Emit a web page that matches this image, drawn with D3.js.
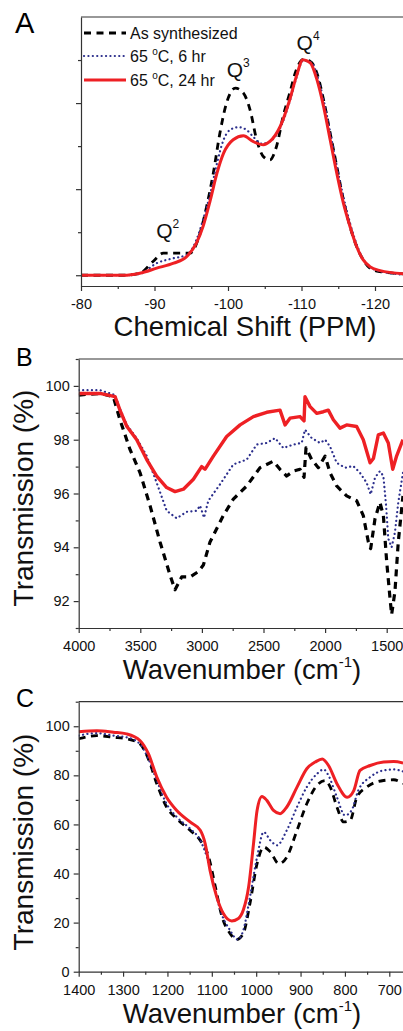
<!DOCTYPE html>
<html><head><meta charset="utf-8">
<script src="https://cdn.jsdelivr.net/npm/d3@7/dist/d3.min.js"></script>
<style>
html,body{margin:0;padding:0;background:#fff;}
svg{display:block;font-family:"Liberation Sans",Arial,sans-serif;}
</style></head>
<body>
<svg id="chart" width="403" height="1031"></svg>
<script>
// ---------- Panel A : 29Si NMR ----------
const seriesNames = ["As synthesized", "65 °C, 6 hr", "65 °C, 24 hr"];
const ppmBlack = [-80,-85.8,-88,-89.8,-91.2,-93.5,-94.8,-96.2,-97.1,-98,-98.9,-99.8,-101,-102.1,-103,-103.9,-104.8,-105.7,-106.6,-107.5,-108.4,-109.3,-110.2,-111.2,-112.1,-113,-113.9,-114.8,-115.7,-116.6,-117.5,-118.4,-119.3,-120.7,-124];
const nmrBlack = [0,0,0.012,0.08,0.128,0.128,0.128,0.244,0.40,0.593,0.826,1.0,1.087,1.058,0.961,0.787,0.69,0.67,0.748,0.922,1.058,1.194,1.252,1.242,1.174,1.019,0.826,0.632,0.438,0.283,0.167,0.089,0.041,0.021,0.008];
const ppmBlue = [-80,-85.8,-88,-90.3,-92.6,-94.4,-95.7,-96.6,-97.6,-98.5,-99.4,-100.3,-101.4,-102.5,-103.4,-104.6,-105.7,-107.1,-108.4,-109.3,-110.2,-111.4,-112.3,-113.2,-114.1,-115,-115.9,-116.8,-117.7,-118.6,-119.8,-124];
const nmrBlue = [0,0,0.008,0.07,0.099,0.118,0.205,0.322,0.477,0.651,0.787,0.845,0.86,0.845,0.806,0.764,0.777,0.855,1.01,1.145,1.246,1.233,1.136,0.981,0.787,0.593,0.419,0.273,0.157,0.079,0.035,0.002];
const ppmRed = [-80,-85.8,-88,-90.3,-92.6,-94.4,-95.7,-96.6,-97.6,-98.5,-99.4,-100.7,-102.1,-103.4,-104.8,-105.7,-107.1,-108.4,-109.3,-110.2,-111.2,-112.1,-113,-113.9,-114.8,-115.7,-116.6,-117.5,-118.4,-119.3,-120.7,-124];
const nmrRed = [0,0,0.012,0.041,0.07,0.109,0.186,0.283,0.438,0.593,0.709,0.787,0.81,0.777,0.758,0.777,0.864,1.019,1.155,1.252,1.233,1.136,0.981,0.787,0.593,0.419,0.283,0.167,0.089,0.05,0.027,0.008];
const ticksA = [-80,-90,-100,-110,-120];
const peakLabels = [{q:"2", ppm:-91.8, v:0.215}, {q:"3", ppm:-101.4, v:1.15}, {q:"4", ppm:-110.9, v:1.31}];

// ---------- Panel B : FTIR 4000-1400 ----------
const wnBBlack = [4000,3827,3719,3665,3583,3502,3421,3340,3259,3218,3164,3096,3028,2988,2934,2826,2745,2636,2528,2420,2366,2312,2258,2204,2171,2155,2109,2055,2000,1960,1906,1825,1744,1690,1649,1630,1595,1555,1527,1500,1473,1460,1433,1406,1368];
const trBBlack = [99.66,99.72,99.6,98.74,97.63,96.77,95.55,94.2,92.97,92.42,92.9,92.9,93.1,93.34,94.2,95.18,95.79,96.28,96.96,97.2,96.9,96.65,96.83,96.9,96.6,97.7,97.26,96.96,97.39,96.77,96.28,95.91,95.73,95.18,94.2,93.95,95.06,95.67,95.18,93.46,92.1,91.5,92.36,94.2,95.91];
const wnBBlue = [4000,3827,3705,3665,3610,3529,3448,3367,3286,3205,3123,3042,3015,2983,2948,2853,2745,2636,2555,2474,2406,2339,2258,2190,2163,2109,2041,2000,1960,1906,1838,1771,1717,1663,1630,1595,1555,1527,1505,1487,1460,1433,1406,1368];
const trBBlue = [99.84,99.84,99.66,99.15,98.55,98.05,97.4,96.4,95.36,95.08,95.32,95.36,95.55,95.1,95.73,96.34,97.08,97.26,97.82,97.88,98.06,97.69,97.82,97.88,98.37,98.06,97.88,98.0,97.75,97.14,96.96,97.02,96.77,96.4,95.97,96.59,96.83,96.65,95.55,94.32,94.0,94.56,95.67,96.77];
const wnBRed = [4000,3827,3705,3665,3610,3529,3448,3367,3286,3218,3150,3069,3002,2975,2907,2799,2690,2582,2474,2366,2325,2285,2204,2171,2163,2122,2068,2014,1974,1933,1879,1825,1744,1690,1635,1608,1568,1527,1487,1451,1419,1368];
const trBRed = [99.72,99.72,99.6,99.1,98.5,98.0,97.26,96.65,96.22,96.07,96.16,96.53,97.0,96.9,97.39,98.12,98.55,98.86,99.02,99.1,98.55,98.8,98.86,98.7,99.6,99.23,98.98,99.04,99.1,98.74,98.43,98.55,98.49,98.0,97.14,97.3,98.18,98.25,97.88,96.9,97.4,98.0];
const ticksBx = [4000,3500,3000,2500,2000,1500];
const ticksBy = [92,94,96,98,100];

// ---------- Panel C : FTIR 1400-670 ----------
const wnCBlack = [1400,1359,1322,1292,1262,1243,1224,1202,1179,1149,1126,1107,1092,1077,1059,1044,1029,1014,998,983,968,949,931,908,886,863,844,833,818,803,788,773,751,713,690,669];
const trCBlack = [94.9,96.2,95.5,94.9,92.8,86.7,76.6,67.1,62.3,57.6,53.5,46.7,34.6,22.4,15.6,13.1,15.6,27.8,44.0,50.8,48.8,44.0,46.7,57.6,68.4,75.9,77.9,75.2,67.1,61.0,61.7,71.1,75.2,77.9,78.2,76.6];
const wnCBlue = [1400,1359,1322,1292,1262,1243,1224,1202,1179,1149,1126,1111,1096,1081,1059,1042,1029,1014,998,983,968,953,931,908,886,863,848,837,818,800,785,770,743,713,690,669];
const trCBlue = [96.2,97.2,96.2,95.5,92.8,86.7,77.9,68.4,63.0,58.3,53.5,46.7,35.9,25.1,16.9,13.1,16.9,30.5,46.7,56.9,53.5,51.5,57.6,67.1,75.2,80.6,82.4,79.9,71.1,63.7,65.7,73.8,79.3,82.0,82.4,81.6];
const wnCRed = [1400,1359,1322,1292,1262,1243,1224,1202,1179,1149,1126,1115,1104,1089,1074,1055,1040,1029,1017,1006,998,987,976,961,946,931,908,886,867,851,837,818,795,780,766,743,713,690,669];
const trCRed = [97.8,98.2,97.6,96.9,94.2,88.8,79.3,71.1,65.7,61.0,57.6,52.2,41.3,30.5,23.7,20.7,21.7,25.1,34.6,52.2,65.7,71.4,69.8,65.7,64.4,67.1,75.2,82.7,85.4,86.7,84.0,76.6,71.1,73.8,82.0,84.0,85.4,85.6,85.0];
const ticksCx = [1400,1300,1200,1100,1000,900,800,700];
const ticksCy = [0,20,40,60,80,100];

// ---------- styles ----------
const styles = [
  {color:"#000000", width:2.8, dash:"7,5.5", cap:"butt"},
  {color:"#2b2e8c", width:2.2, dash:"0.1,4.3", cap:"round"},
  {color:"#ee2024", width:3.0, dash:null, cap:"butt"}
];

const svg = d3.select("#chart");
const axisColor = "#333";
const W = 403;

function zip(xs, ys){ return xs.map((x,i)=>[x, ys[i]]); }

function panel(cfg){
  const g = svg.append("g");
  const x = d3.scaleLinear().domain(cfg.xDom).range([cfg.left, cfg.xRight]);
  const y = d3.scaleLinear().domain(cfg.yDom).range([cfg.bottom, cfg.top]);
  const clipId = "clip" + cfg.id;
  svg.append("clipPath").attr("id", clipId).append("rect")
    .attr("x", cfg.left).attr("y", cfg.top).attr("width", W - cfg.left).attr("height", cfg.bottom - cfg.top);
  const line = d3.line().x(d=>x(d[0])).y(d=>y(d[1])).curve(cfg.curve);
  cfg.series.forEach((s,i)=>{
    const st = styles[i];
    g.append("path").datum(s).attr("clip-path","url(#"+clipId+")")
      .attr("d", line).attr("fill","none").attr("stroke", st.color)
      .attr("stroke-width", cfg.widths ? cfg.widths[i] : st.width)
      .attr("stroke-dasharray", st.dash).attr("stroke-linecap", st.cap)
      .attr("stroke-linejoin","round");
  });
  g.append("line").attr("x1", cfg.left).attr("x2", W).attr("y1", cfg.top).attr("y2", cfg.top)
    .attr("stroke", axisColor).attr("stroke-width", 1.2);
  const xa = g.append("g").attr("transform", `translate(0,${cfg.bottom})`)
    .call(d3.axisBottom(x).tickValues(cfg.xTicks).tickFormat(d=>String(d)).tickSize(5).tickSizeOuter(0).tickPadding(8));
  xa.select(".domain").attr("d", `M${cfg.left},0.5H${W}`);
  const xm = g.append("g").attr("transform", `translate(0,${cfg.bottom})`)
    .call(d3.axisBottom(x).tickValues(cfg.xMinor).tickFormat("").tickSize(3).tickSizeOuter(0));
  xm.select(".domain").remove();
  const ya = g.append("g").attr("transform", `translate(${cfg.left},0)`)
    .call(d3.axisLeft(y).tickValues(cfg.yTicks).tickFormat(cfg.yLabels ? (d=>String(d)) : "").tickSize(5).tickSizeOuter(0).tickPadding(4));
  const ym = g.append("g").attr("transform", `translate(${cfg.left},0)`)
    .call(d3.axisLeft(y).tickValues(cfg.yMinor).tickFormat("").tickSize(3).tickSizeOuter(0));
  ym.select(".domain").remove();
  [xa, xm, ya, ym].forEach(a=>{
    a.selectAll("path,line").attr("stroke", axisColor).attr("stroke-width", 1.2);
    a.selectAll("text").attr("font-size", 14.5).attr("fill","#111")
      .attr("font-family", '"Liberation Sans",Arial,sans-serif');
  });
  return {x, y, g};
}

const A = panel({
  id:"A", left:81, xRight:375, top:17, bottom:286,
  xDom:[-80,-120], yDom:[-0.0625,1.5],
  xTicks: ticksA, xMinor:[-85,-95,-105,-115],
  yTicks:[0,0.5,1.0], yMinor:[0.25,0.75,1.25], yLabels:false,
  curve: d3.curveMonotoneX,
  series:[zip(ppmBlack,nmrBlack), zip(ppmBlue,nmrBlue), zip(ppmRed,nmrRed)]
});
const B = panel({
  id:"B", left:78.7, xRight:386.7, top:359, bottom:628,
  xDom:[4000,1500], yDom:[91,101],
  xTicks: ticksBx, xMinor:[3750,3250,2750,2250,1750],
  yTicks: ticksBy, yMinor:[91,93,95,97,99,101], yLabels:true,
  curve: d3.curveLinear, widths:[3.2,2.2,3.4],
  series:[zip(wnBBlack,trBBlack), zip(wnBBlue,trBBlue), zip(wnBRed,trBRed)]
});
const C = panel({
  id:"C", left:78.7, xRight:389.3, top:701.7, bottom:971.7,
  xDom:[1400,700], yDom:[0,110],
  xTicks: ticksCx, xMinor:[1350,1250,1150,1050,950,850,750],
  yTicks: ticksCy, yMinor:[10,30,50,70,90,110], yLabels:true,
  curve: d3.curveMonotoneX,
  series:[zip(wnCBlack,trCBlack), zip(wnCBlue,trCBlue), zip(wnCRed,trCRed)]
});

svg.append("text").attr("x",15).attr("y",33).attr("font-size",29).text("A");
svg.append("text").attr("x",16).attr("y",366).attr("font-size",25).text("B");
svg.append("text").attr("x",16).attr("y",707).attr("font-size",25).text("C");

const legY = [33, 56, 80];
styles.forEach((st,i)=>{
  svg.append("line").attr("x1",84).attr("x2",126).attr("y1",legY[i]).attr("y2",legY[i])
    .attr("stroke",st.color).attr("stroke-width",st.width).attr("stroke-dasharray",st.dash)
    .attr("stroke-linecap",st.cap);
  const t = svg.append("text").attr("x",130).attr("y",legY[i]+5.5).attr("font-size",16).attr("fill","#111");
  if(i===0){ t.text(seriesNames[0]); }
  else {
    const parts = seriesNames[i].split("°");
    t.append("tspan").text(parts[0]);
    t.append("tspan").attr("font-size",10).attr("dy",-7).text("o");
    t.append("tspan").attr("dy",7).text(parts[1]);
  }
});

peakLabels.forEach(p=>{
  const t = svg.append("text").attr("x",A.x(p.ppm)).attr("y",A.y(p.v)).attr("font-size",21)
    .attr("text-anchor","middle").attr("fill","#111");
  t.append("tspan").text("Q");
  t.append("tspan").attr("font-size",12).attr("dy",-10).text(p.q);
});

svg.append("text").attr("x",245).attr("y",336).attr("font-size",27.5).attr("text-anchor","middle")
  .attr("fill","#111").text("Chemical Shift (PPM)");
function wnTitle(yb){
  const t = svg.append("text").attr("x",242).attr("y",yb).attr("font-size",27.5).attr("text-anchor","middle").attr("fill","#111");
  t.append("tspan").text("Wavenumber (cm");
  t.append("tspan").attr("font-size",15).attr("dy",-12).text("-1");
  t.append("tspan").attr("dy",12).text(")");
}
wnTitle(679);
wnTitle(1023);
function trTitle(cy){
  svg.append("text").attr("transform",`translate(33,${cy}) rotate(-90)`).attr("font-size",28)
    .attr("text-anchor","middle").attr("fill","#111").text("Transmission (%)");
}
trTitle(498);
trTitle(842);
</script>
</body></html>
